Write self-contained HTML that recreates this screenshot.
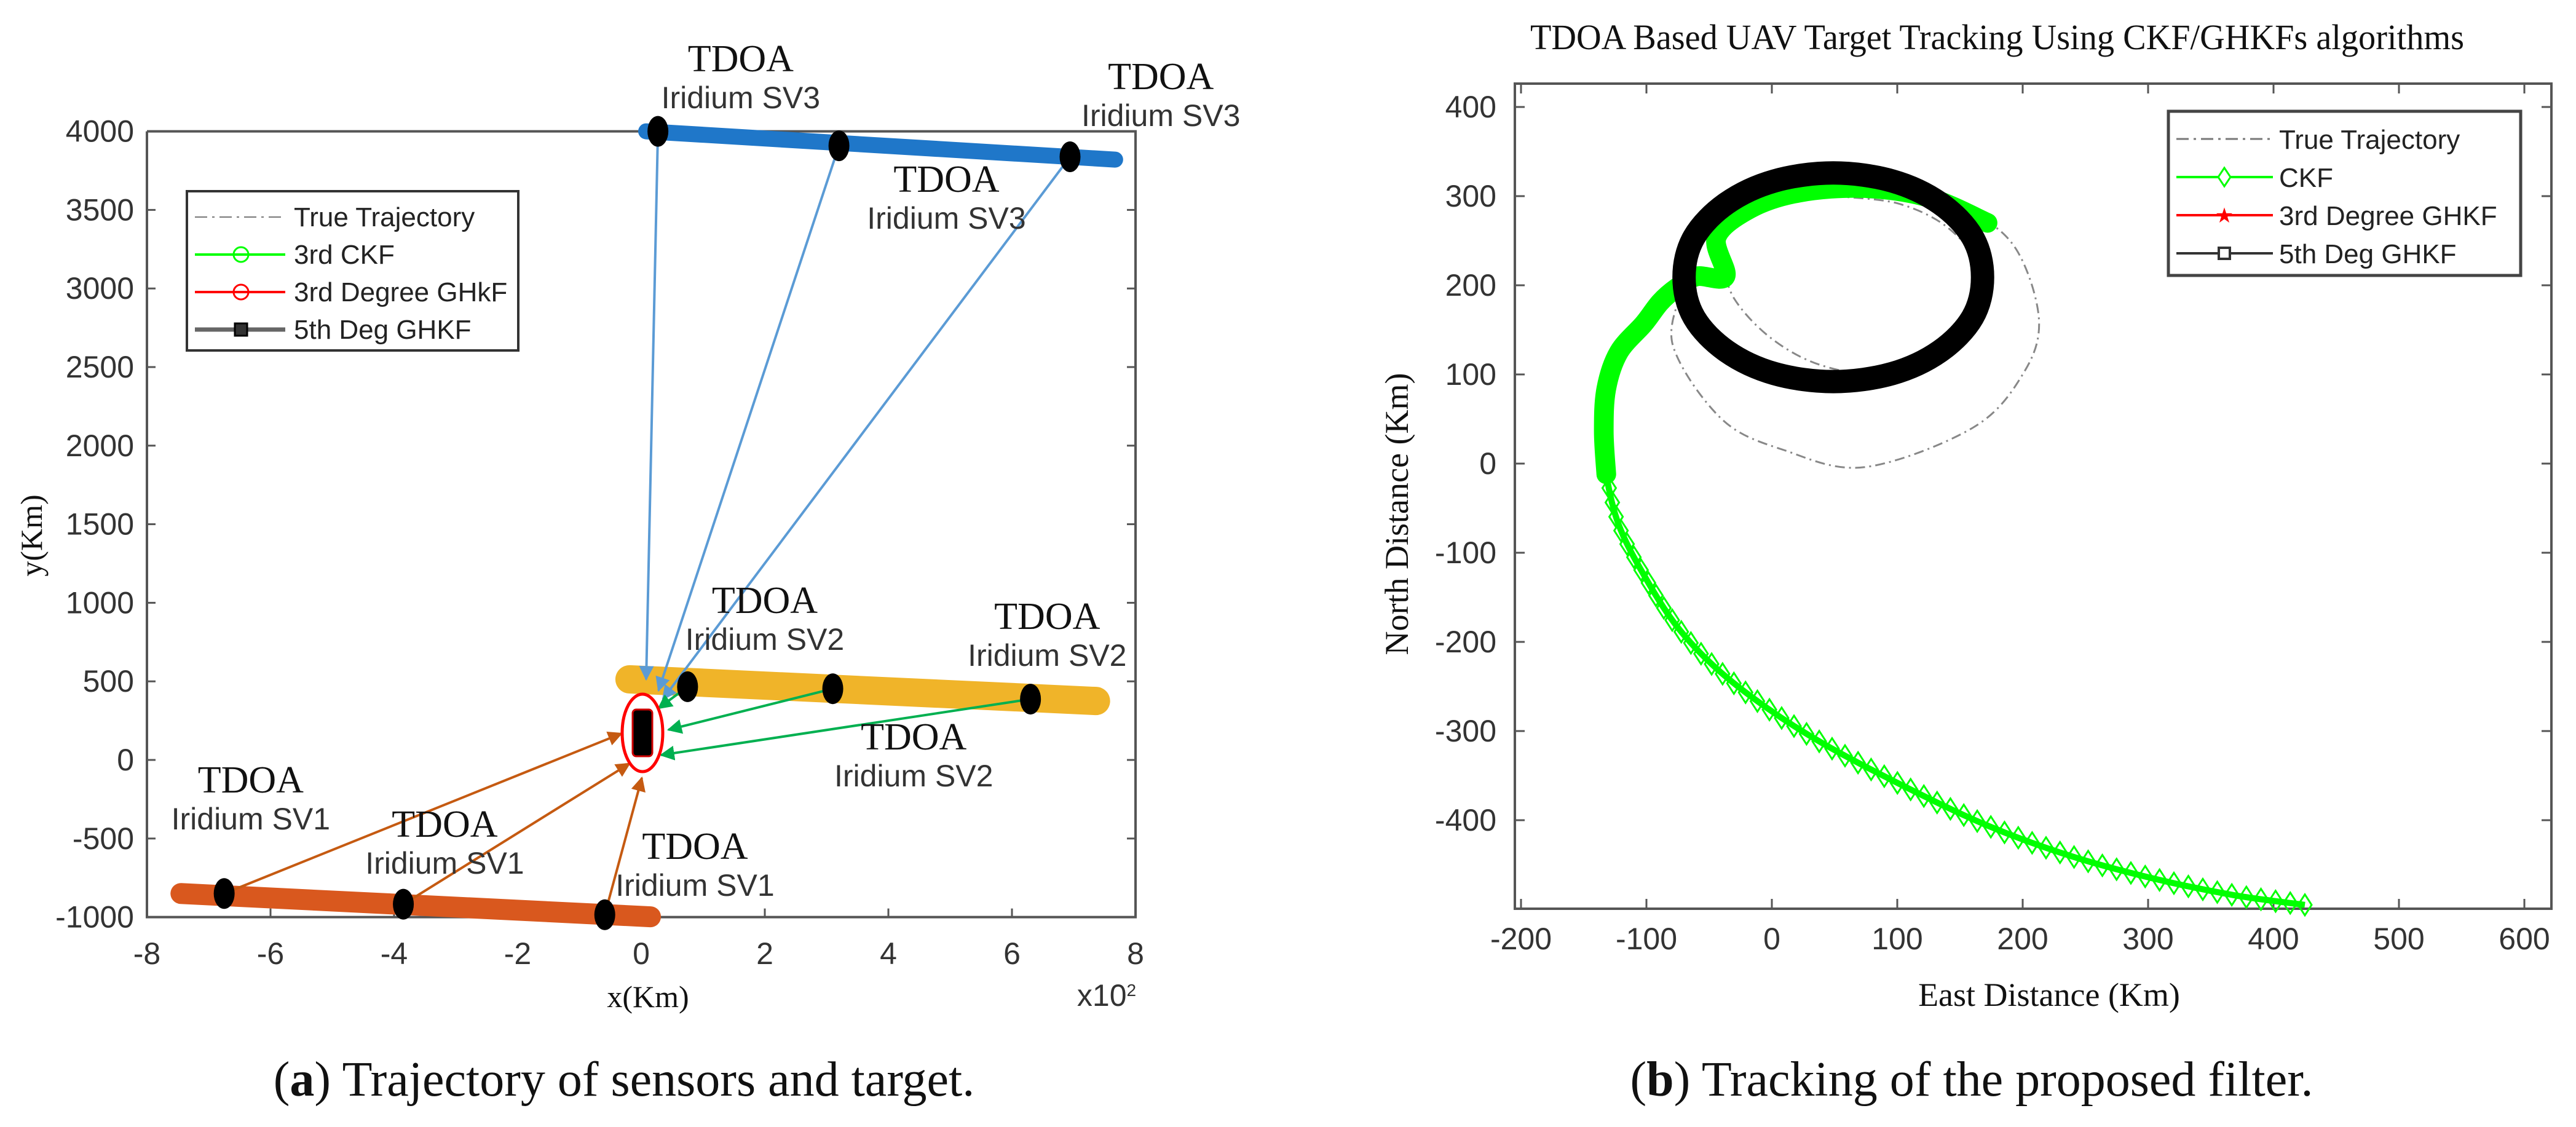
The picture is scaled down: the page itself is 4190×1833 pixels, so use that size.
<!DOCTYPE html>
<html><head><meta charset="utf-8"><style>
html,body{margin:0;padding:0;background:#fff}
svg{display:block}
.tk{font-family:"Liberation Sans",sans-serif;font-size:50px;fill:#333}
.sr{font-family:"Liberation Serif",serif;fill:#111}
.lg{font-family:"Liberation Sans",sans-serif;font-size:44px;fill:#222}
</style></head><body>
<svg id="fig" width="4190" height="1833" viewBox="0 0 4190 1833" xmlns="http://www.w3.org/2000/svg">
<defs>
<marker id="ab" viewBox="0 0 10 10" refX="9" refY="5" markerWidth="6" markerHeight="6" orient="auto"><path d="M0,0L10,5L0,10z" fill="#5b9bd5"/></marker>
<marker id="ag" viewBox="0 0 10 10" refX="9" refY="5" markerWidth="6" markerHeight="6" orient="auto"><path d="M0,0L10,5L0,10z" fill="#00b050"/></marker>
<marker id="ao" viewBox="0 0 10 10" refX="9" refY="5" markerWidth="6" markerHeight="6" orient="auto"><path d="M0,0L10,5L0,10z" fill="#c55a11"/></marker>
</defs>
<g id="left"></g>
<g id="right"></g>
<text x="1015" y="1782" text-anchor="middle" class="sr" font-size="80">(<tspan font-weight="bold">a</tspan>) Trajectory of sensors and target.</text>
<text x="3207" y="1782" text-anchor="middle" class="sr" font-size="80">(<tspan font-weight="bold">b</tspan>) Tracking of the proposed filter.</text>
</svg>
<script>
// ---------- Left chart data ----------
const lxTicks=[-8,-6,-4,-2,0,2,4,6,8];
const lyTicks=[-1000,-500,0,500,1000,1500,2000,2500,3000,3500,4000];
const sv3Band=[[0.08,4000],[7.67,3820]];
const sv2Band=[[-0.19,513],[7.36,375]];
const sv1Band=[[-7.45,-850],[0.15,-998]];
const sv3Pos=[[0.27,4000],[3.2,3908],[6.94,3838]];
const sv2Pos=[[0.75,466],[3.1,453],[6.3,387]];
const sv1Pos=[[-6.75,-850],[-3.85,-918],[-0.59,-985]];
const sv3End=[[0.08,513],[0.28,442],[0.35,387]];
const sv2End=[[0.28,329],[0.44,192],[0.32,31]];
const sv1End=[[-0.32,168],[-0.19,-23],[0.01,-114]];
const targetPos=[0.02,172];
const labelPos=[[1.61,4382],[8.41,4268],[4.94,3615],[2.0,935],[6.57,833],[4.41,67],[-6.32,-207],[-3.18,-489],[0.87,-630]];
const labelTxt=["SV3","SV3","SV3","SV2","SV2","SV2","SV1","SV1","SV1"];
// ---------- Right chart data ----------
const rxTicks=[-200,-100,0,100,200,300,400,500,600];
const ryTicks=[-400,-300,-200,-100,0,100,200,300,400];
const trueX=[-40,-30,0,40,90,140,165,165,140,100,50,110,160,195,213,200,160,74,10,-40,-79,-70];
const trueY=[230,185,140,110,100,120,165,220,265,292,300,295,280,240,161,100,40,-4,15,50,133,200];
const ckfX=[425,368,303,238,172,107,42,-4,-44,-76,-102,-122,-132,-134,-132,-122,-102,-89,-76,-60,-37,-44,-17,22,74,126,172];
const ckfY=[-495,-484,-465,-440,-406,-363,-315,-274,-230,-182,-125,-69,-12,36,84,125,157,181,197,210,210,254,286,304,309,298,270];
const ghkfX=[168,160,134,96,49,2,-36,-62,-70,-62,-36,2,49,96,134,160];
const ghkfY=[209,254,292,317,326,317,292,254,209,164,126,101,92,101,126,164];

const NS="http://www.w3.org/2000/svg";
function mk(p,t,a){const e=document.createElementNS(NS,t);for(const k in a)e.setAttribute(k,a[k]);p.appendChild(e);return e;}
function smooth(p,closed){const n=p.length;let d=`M${p[0][0]},${p[0][1]}`;const g=i=>closed?p[(i+n)%n]:p[Math.max(0,Math.min(n-1,i))];
 const m=closed?n:n-1;for(let i=0;i<m;i++){const p0=g(i-1),p1=g(i),p2=g(i+1),p3=g(i+2);
 d+=`C${p1[0]+(p2[0]-p0[0])/6},${p1[1]+(p2[1]-p0[1])/6} ${p2[0]-(p3[0]-p1[0])/6},${p2[1]-(p3[1]-p1[1])/6} ${p2[0]},${p2[1]}`;}return d+(closed?'Z':'');}
const L=document.getElementById('left'),R=document.getElementById('right');
const lx=v=>1043+v*100.5, ly=v=>1236-v*0.2556;
const rx=v=>2474+(v+200)*2.04, ry=v=>754-v*1.45;

// Left axes
let e=mk(L,'path',{d:`M${lx(-8)},${ly(4000)}V${ly(-1000)}H${lx(8)}V${ly(4000)}H${lx(-8)}`,fill:'none',stroke:'#555','stroke-width':4});

lxTicks.forEach(v=>{mk(L,'line',{x1:lx(v),x2:lx(v),y1:ly(-1000),y2:ly(-1000)-14,stroke:'#555','stroke-width':3});
 const t=mk(L,'text',{x:lx(v),y:1568,'text-anchor':'middle',class:'tk'});t.textContent=v;
 });
lyTicks.forEach(v=>{mk(L,'line',{x1:lx(-8),x2:lx(-8)+14,y1:ly(v),y2:ly(v),stroke:'#555','stroke-width':3});
 mk(L,'line',{x1:lx(8),x2:lx(8)-14,y1:ly(v),y2:ly(v),stroke:'#555','stroke-width':3});
 const t=mk(L,'text',{x:218,y:ly(v)+17,'text-anchor':'end',class:'tk'});t.textContent=v;
 });
e=mk(L,'text',{x:1054,y:1638,'text-anchor':'middle',class:'sr','font-size':50});e.textContent='x(Km)';

e=mk(L,'text',{x:1800,y:1636,'text-anchor':'middle',class:'tk','font-size':42});e.innerHTML='x10<tspan dy="-16" font-size="28">2</tspan>';

e=mk(L,'text',{x:68,y:871,'text-anchor':'middle',class:'sr','font-size':50,transform:'rotate(-90 68 871)'});e.textContent='y(Km)';

// bands
[[sv3Band,'#1f77c9',26,'sv3-track'],[sv2Band,'#f0b429',46,'sv2-track'],[sv1Band,'#d9581e',34,'sv1-track']].forEach(b=>{
 const p=b[0];e=mk(L,'line',{x1:lx(p[0][0]),y1:ly(p[0][1]),x2:lx(p[1][0]),y2:ly(p[1][1]),stroke:b[1],'stroke-width':b[2],'stroke-linecap':'round'});
 });
// arrows
[[sv3Pos,sv3End,'#5b9bd5','ab'],[sv2Pos,sv2End,'#00b050','ag'],[sv1Pos,sv1End,'#c55a11','ao']].forEach(g=>{
 g[0].forEach((s,i)=>{e=mk(L,'line',{x1:lx(s[0]),y1:ly(s[1]),x2:lx(g[1][i][0]),y2:ly(g[1][i][1]),stroke:g[2],'stroke-width':4,'marker-end':`url(#${g[3]})`});
  });});
// sensors
[...sv3Pos,...sv2Pos,...sv1Pos].forEach(s=>{e=mk(L,'ellipse',{cx:lx(s[0]),cy:ly(s[1]),rx:17,ry:25,fill:'#000'});
 });
// target
e=mk(L,'ellipse',{cx:lx(targetPos[0]),cy:ly(targetPos[1]),rx:33,ry:63,fill:'none',stroke:'#f00','stroke-width':5});

e=mk(L,'rect',{x:lx(targetPos[0])-16,y:ly(targetPos[1])-38,width:32,height:76,rx:6,fill:'#000',stroke:'#c00','stroke-width':3});

// labels
labelPos.forEach((p,i)=>{const x=lx(p[0]),y=ly(p[1]);
 e=mk(L,'text',{x:x,y:y,'text-anchor':'middle',class:'sr','font-size':62});e.textContent='TDOA';
 
 e=mk(L,'text',{x:x,y:y+60,'text-anchor':'middle',class:'tk','font-size':46,fill:'#222'});e.textContent='Iridium '+labelTxt[i];
 });
// legend left
e=mk(L,'rect',{x:304,y:311,width:539,height:259,fill:'#fff',stroke:'#333','stroke-width':4});

[['True Trajectory','#777','20 8 4 8',2],['3rd CKF','#0f0','',4],['3rd Degree GHkF','#f00','',4],['5th Deg GHKF','#666','',7]].forEach((l,i)=>{
 const y=353+i*61;e=mk(L,'line',{x1:317,x2:464,y1:y,y2:y,stroke:l[1],'stroke-width':l[3],'stroke-dasharray':l[2]});
 
 if(i==1||i==2){mk(L,'circle',{cx:392,cy:y,r:12,fill:'none',stroke:l[1],'stroke-width':3});}
 if(i==3){mk(L,'rect',{x:382,y:y-10,width:20,height:20,fill:'#333',stroke:'#000','stroke-width':3});}
 e=mk(L,'text',{x:478,y:y+15,class:'lg'});e.textContent=l[0];
 });

// ---------- Right chart ----------
e=mk(R,'text',{x:2489,y:80,class:'sr','font-size':58,textLength:1519,lengthAdjust:'spacingAndGlyphs'});e.textContent='TDOA Based UAV Target Tracking Using CKF/GHKFs algorithms';

const bx0=2464,bx1=4150,by0=136,by1=1478;
e=mk(R,'rect',{x:bx0,y:by0,width:bx1-bx0,height:by1-by0,fill:'none',stroke:'#555','stroke-width':4});

rxTicks.forEach(v=>{mk(R,'line',{x1:rx(v),x2:rx(v),y1:by1,y2:by1-16,stroke:'#555','stroke-width':3});
 mk(R,'line',{x1:rx(v),x2:rx(v),y1:by0,y2:by0+16,stroke:'#555','stroke-width':3});
 const t=mk(R,'text',{x:rx(v),y:1544,'text-anchor':'middle',class:'tk'});t.textContent=v;
 });
ryTicks.forEach(v=>{mk(R,'line',{x1:bx0,x2:bx0+16,y1:ry(v),y2:ry(v),stroke:'#555','stroke-width':3});
 mk(R,'line',{x1:bx1,x2:bx1-16,y1:ry(v),y2:ry(v),stroke:'#555','stroke-width':3});
 const t=mk(R,'text',{x:2434,y:ry(v)+17,'text-anchor':'end',class:'tk'});t.textContent=v;
 });
e=mk(R,'text',{x:3333,y:1636,'text-anchor':'middle',class:'sr','font-size':54});e.textContent='East Distance (Km)';

e=mk(R,'text',{x:2290,y:836,'text-anchor':'middle',class:'sr','font-size':54,transform:'rotate(-90 2290 836)'});e.textContent='North Distance (Km)';

// true trajectory
e=mk(R,'path',{d:smooth(trueX.map((v,i)=>[rx(v),ry(trueY[i])]),false),fill:'none',stroke:'#888','stroke-width':3,'stroke-dasharray':'16 7 3 7'});

// CKF
const ck=ckfX.map((v,i)=>[rx(v),ry(ckfY[i])]);
const ckPath=mk(R,'path',{d:smooth(ck,false),fill:'none',stroke:'#0f0','stroke-width':10});

e=mk(R,'path',{d:smooth(ck.slice(12),false),fill:'none',stroke:'#0f0','stroke-width':32,'stroke-linecap':'round'});

const lowLen=(()=>{const t=mk(R,'path',{d:smooth(ck.slice(0,13),false),fill:'none',stroke:'none'});const l=t.getTotalLength();
 for(let s=0;s<=l;s+=24){const p=t.getPointAtLength(s);
  const m=mk(R,'path',{d:`M${p.x},${p.y-17}l11,17l-11,17l-11,-17z`,fill:'none',stroke:'#0f0','stroke-width':3});
  }return l;})();
// GHKF ring
e=mk(R,'path',{d:smooth(ghkfX.map((v,i)=>[rx(v),ry(ghkfY[i])]),true),fill:'none',stroke:'#000','stroke-width':38});

// legend right
e=mk(R,'rect',{x:3527,y:181,width:573,height:267,fill:'#fff',stroke:'#444','stroke-width':5});

[['True Trajectory','#777','20 8 4 8',3],['CKF','#0f0','',4],['3rd Degree GHKF','#f00','',4],['5th Deg GHKF','#333','',4]].forEach((l,i)=>{
 const y=226+i*62;e=mk(R,'line',{x1:3540,x2:3697,y1:y,y2:y,stroke:l[1],'stroke-width':l[3],'stroke-dasharray':l[2]});
 
 if(i==1)mk(R,'path',{d:`M3618,${y-15}l10,15l-10,15l-10,-15z`,fill:'#fff',stroke:'#0f0','stroke-width':3});
 if(i==2)mk(R,'text',{x:3618,y:y+12,'text-anchor':'middle','font-size':34,fill:'#f00'}).textContent='★';
 if(i==3)mk(R,'rect',{x:3609,y:y-9,width:18,height:18,fill:'#fff',stroke:'#333','stroke-width':4});
 e=mk(R,'text',{x:3707,y:y+16,class:'lg','font-size':46});e.textContent=l[0];
 });
</script>
</body></html>
